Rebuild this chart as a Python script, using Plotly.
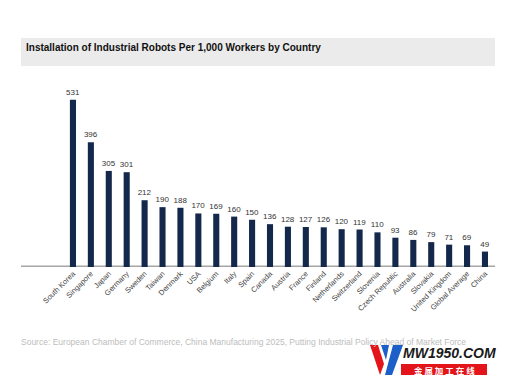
import plotly.graph_objects as go

countries = ["South Korea", "Singapore", "Japan", "Germany", "Sweden", "Taiwan", "Denmark", "USA",
             "Belgium", "Italy", "Spain", "Canada", "Austria", "France", "Finland", "Netherlands",
             "Switzerland", "Slovenia", "Czech Republic", "Australia", "Slovakia", "United Kingdom",
             "Global Average", "China"]
values = [531, 396, 305, 301, 212, 190, 188, 170, 169, 160, 150, 136, 128, 127, 126, 120, 119,
          110, 93, 86, 79, 71, 69, 49]

title_text = "Installation of Industrial Robots Per 1,000 Workers by Country"
source_text = "Source: European Chamber of Commerce, China Manufacturing 2025, Putting Industrial Policy Ahead of Market Force"

W, H = 516, 387
ml, mr, mt, mb = 21, 21, 78, 120

fig = go.Figure()
fig.add_trace(go.Bar(
    x=list(range(len(countries))), y=values,
    marker=dict(color="#14284B", line=dict(width=0)),
    width=0.34,
    text=[str(v) for v in values], textposition="outside",
    constraintext="none",
    textfont=dict(family="Arial, Liberation Sans", size=8, color="#333333"),
    cliponaxis=False,
))

n = len(countries)
fig.update_layout(
    width=W, height=H,
    margin=dict(l=ml, r=mr, t=mt, b=mb, pad=0, autoexpand=False),
    paper_bgcolor="white", plot_bgcolor="white",
    showlegend=False,
    xaxis=dict(range=[-2.90, 23.56], tickmode="array", automargin=False,
               tickvals=list(range(n)), ticktext=countries,
               tickangle=-45, tickfont=dict(family="Arial, Liberation Sans", size=7.5, color="#444444"),
               showgrid=False, zeroline=False, showline=False, ticks="", ticklen=0),
    yaxis=dict(range=[0, 600], visible=False, showgrid=False, zeroline=False, automargin=False),
    font=dict(family="Arial, Liberation Sans"),
)

pw, ph = W - ml - mr, H - mt - mb
def px(x): return (x - ml) / pw
def py(y): return 1 - (y - mt) / ph

# title band
fig.add_shape(type="rect", xref="paper", yref="paper",
              x0=px(21), x1=px(495), y0=py(66), y1=py(38),
              fillcolor="#EBEBEB", line=dict(width=0), layer="below")
fig.add_annotation(text="<b>" + title_text + "</b>", xref="paper", yref="paper",
                   x=px(24), y=py(47.5), xanchor="left", yanchor="middle", showarrow=False,
                   font=dict(family="Arial, Liberation Sans", size=10, color="#111111"))

# baseline
fig.add_shape(type="line", xref="paper", yref="y",
              x0=px(21), x1=px(495), y0=0, y1=0,
              line=dict(color="#A6A6A6", width=3), layer="below")

# source
fig.add_annotation(text=source_text, xref="paper", yref="paper",
                   x=px(19), y=py(342), xanchor="left", yanchor="middle", showarrow=False,
                   font=dict(family="Arial, Liberation Sans", size=8.5, color="#BDBDBD"))

# watermark logo
fig.add_shape(type="path", xref="paper", yref="paper",
              path=f"M {px(370)} {py(345)} L {px(378)} {py(345)} L {px(384)} {py(364)} L {px(380)} {py(375)} Z",
              fillcolor="#E4141B", line=dict(width=0))
fig.add_shape(type="path", xref="paper", yref="paper",
              path=f"M {px(381)} {py(345)} L {px(389)} {py(345)} L {px(386)} {py(360)} Z",
              fillcolor="#1C5FC8", line=dict(width=0))
fig.add_shape(type="path", xref="paper", yref="paper",
              path=f"M {px(393)} {py(345)} L {px(403)} {py(345)} L {px(392)} {py(375)} L {px(385)} {py(375)} Z",
              fillcolor="#1C5FC8", line=dict(width=0))
fig.add_shape(type="rect", xref="paper", yref="paper",
              x0=px(401), x1=px(487), y0=py(375), y1=py(364),
              fillcolor="#E4141B", line=dict(width=0))
fig.add_annotation(text="<b><i>MW1950.COM</i></b>", xref="paper", yref="paper",
                   x=px(401), y=py(353), xanchor="left", yanchor="middle", showarrow=False,
                   font=dict(family="Arial, Liberation Sans", size=14, color="#1A1A1A"))
fig.add_annotation(text="<b>金 属 加 工 在 线</b>", xref="paper", yref="paper",
                   x=px(444), y=py(369.5), xanchor="center", yanchor="middle", showarrow=False,
                   font=dict(family="Noto Sans CJK SC", size=8.5, color="white"))

fig.write_html("out.html", config={"displayModeBar": False},
               post_script="document.body.style.margin='0';document.body.style.overflow='hidden';")
